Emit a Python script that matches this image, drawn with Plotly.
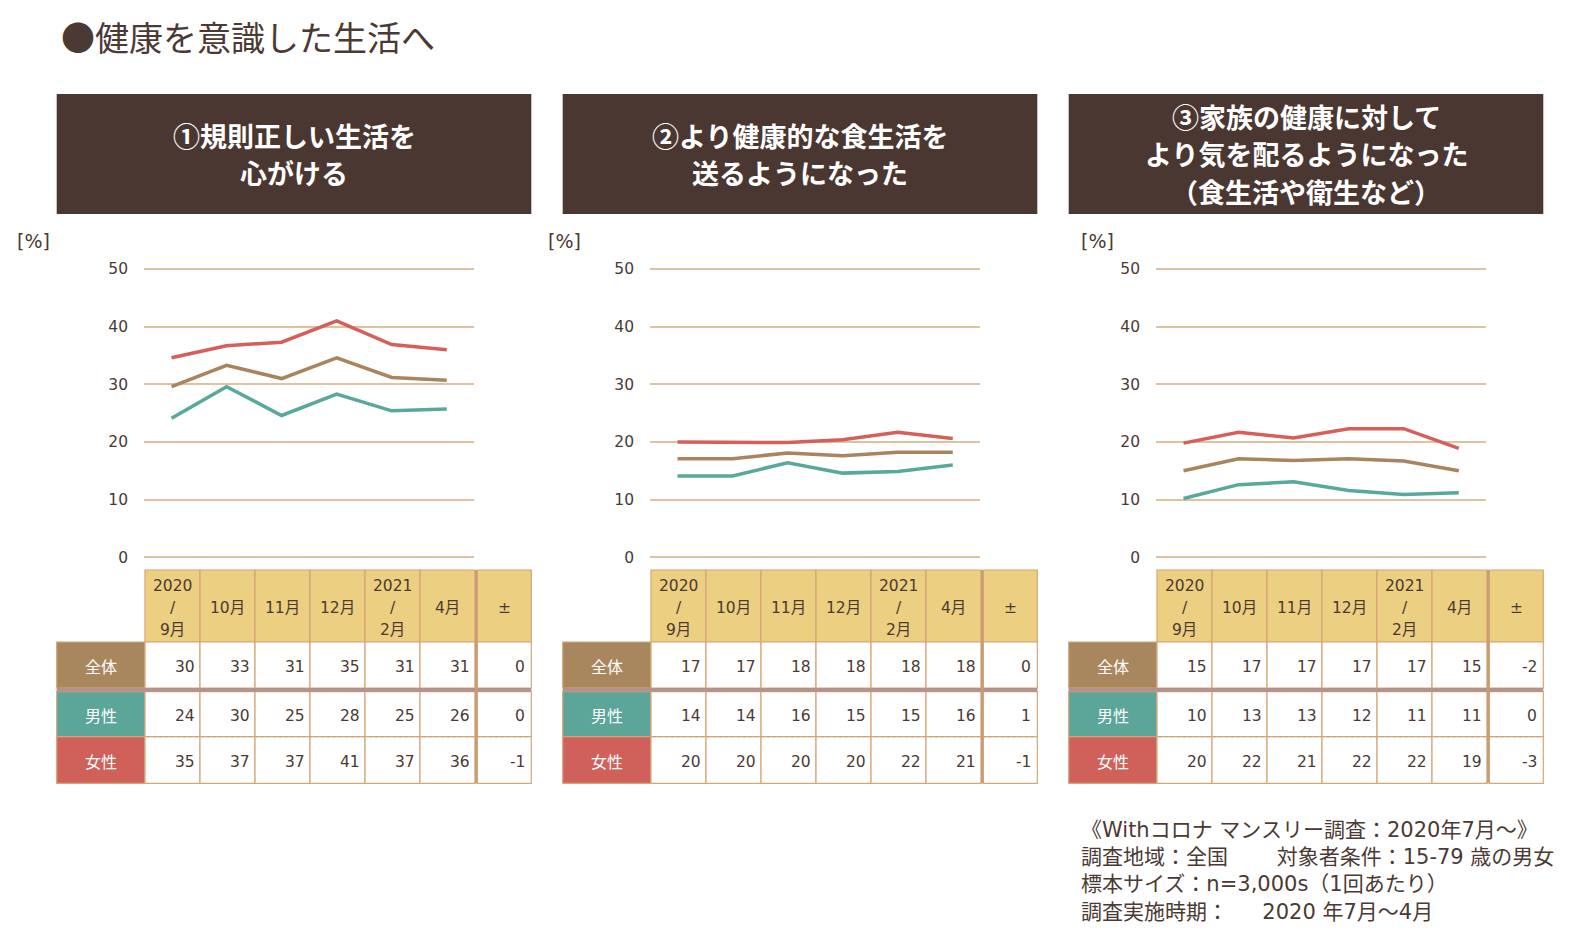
import plotly.graph_objects as go

W, H = 1595, 940

# ---------------- data ----------------
months = ["2020/9月", "10月", "11月", "12月", "2021/2月", "4月"]
col_labels = ["2020<br>/<br>9月", "10月", "11月", "12月", "2021<br>/<br>2月", "4月"]
diff_label = "±"
row_labels = ["全体", "男性", "女性"]
y_ticks = [0, 10, 20, 30, 40, 50]

panel_titles = [
    ["①規則正しい生活を", "心がける"],
    ["②より健康的な食生活を", "送るようになった"],
    ["③家族の健康に対して", "より気を配るようになった", "（食生活や衛生など）"],
]

# line values (%)
p1_all = [29.6, 33.3, 31.0, 34.6, 31.2, 30.7]
p1_male = [24.1, 29.6, 24.6, 28.3, 25.4, 25.7]
p1_female = [34.6, 36.7, 37.3, 41.0, 36.9, 36.0]

p2_all = [17.1, 17.1, 18.1, 17.6, 18.2, 18.2]
p2_male = [14.1, 14.1, 16.4, 14.6, 14.9, 16.0]
p2_female = [20.0, 19.9, 19.9, 20.4, 21.7, 20.6]

p3_all = [15.0, 17.1, 16.8, 17.1, 16.7, 15.0]
p3_male = [10.2, 12.6, 13.1, 11.6, 10.9, 11.2]
p3_female = [19.8, 21.7, 20.7, 22.3, 22.3, 18.9]

# table values (as printed)
t1_all = [30, 33, 31, 35, 31, 31]
t1_male = [24, 30, 25, 28, 25, 26]
t1_female = [35, 37, 37, 41, 37, 36]
t1_diff = [0, 0, -1]

t2_all = [17, 17, 18, 18, 18, 18]
t2_male = [14, 14, 16, 15, 15, 16]
t2_female = [20, 20, 20, 20, 22, 21]
t2_diff = [0, 1, -1]

t3_all = [15, 17, 17, 17, 17, 15]
t3_male = [10, 13, 13, 12, 11, 11]
t3_female = [20, 22, 21, 22, 22, 19]
t3_diff = [-2, 0, -3]

main_title = "●健康を意識した生活へ"
footnotes = [
    "《Withコロナ マンスリー調査：2020年7月～》",
    "調査地域：全国　　 対象者条件：15-79 歳の男女",
    "標本サイズ：n=3,000s（1回あたり）",
    "調査実施時期：　  2020 年7月～4月",
]

panels = [
    dict(lines=[p1_all, p1_male, p1_female], table=[t1_all, t1_male, t1_female], diff=t1_diff),
    dict(lines=[p2_all, p2_male, p2_female], table=[t2_all, t2_male, t2_female], diff=t2_diff),
    dict(lines=[p3_all, p3_male, p3_female], table=[t3_all, t3_male, t3_female], diff=t3_diff),
]

# ---------------- style ----------------
C_TEXT = "#4B3A34"
C_HEAD = "#4B3731"
C_GRID = "#DEC3A3"
C_GOLD = "#ECCF80"
C_BORDER = "#D6A676"
C_SEP = "#B4918A"
line_colors = ["#A9845E", "#58A99B", "#D65F59"]
label_colors = ["#A8875F", "#5BA699", "#D0605A"]
CJK = "Noto Sans CJK JP"
NUM = "DejaVu Sans, Noto Sans CJK JP"

PANEL_X = [56.7, 562.7, 1068.7]
PANEL_W = 474.6


def px(x):
    return x / W


def py(y):
    return 1 - y / H


fig = go.Figure()
shapes = []
annotations = []

# main title
annotations.append(dict(x=px(59), y=py(37), xref="paper", yref="paper", xanchor="left", yanchor="middle",
                        text=main_title, showarrow=False, font=dict(family=CJK, size=34, color=C_TEXT)))

pct_x = [14.5, 546, 1079]

Y0, Y50 = 557.3, 269.0
ypad = 0.6
unit = (Y0 - Y50) / 50.0

for p, pan in enumerate(panels):
    ox = PANEL_X[p]
    ax = "" if p == 0 else str(p + 1)

    # header box
    shapes.append(dict(type="rect", xref="paper", yref="paper", x0=px(ox), x1=px(ox + PANEL_W),
                       y0=py(214), y1=py(94), fillcolor=C_HEAD, line=dict(width=0), layer="below"))
    lines_t = panel_titles[p]
    n = len(lines_t)
    for k, t in enumerate(lines_t):
        yc = 154 + (k - (n - 1) / 2) * 37.5
        annotations.append(dict(x=px(ox + PANEL_W / 2), y=py(yc), xref="paper", yref="paper",
                                xanchor="center", yanchor="middle", text="<b>" + t + "</b>", showarrow=False,
                                font=dict(family=CJK, size=27, color="white")))

    # [%]
    annotations.append(dict(x=px(pct_x[p]), y=py(241), xref="paper", yref="paper", xanchor="left",
                            yanchor="middle", text="[%]", showarrow=False,
                            font=dict(family="DejaVu Sans", size=19, color=C_TEXT)))

    # line chart
    for s, vals in enumerate(pan["lines"]):
        fig.add_trace(go.Scatter(x=months, y=vals, mode="lines", xaxis="x" + ax, yaxis="y" + ax,
                                 line=dict(color=line_colors[s], width=3.5), showlegend=False,
                                 cliponaxis=False, hoverinfo="skip"))
    fig.layout["xaxis" + ax] = dict(domain=[px(ox + 87.3), px(ox + 417.6)], range=[-0.5, 5.5],
                                    type="category", categoryarray=months, showticklabels=False,
                                    showgrid=False, zeroline=False, showline=False, anchor="y" + ax,
                                    fixedrange=True)
    fig.layout["yaxis" + ax] = dict(domain=[py(Y0 + ypad * unit), py(Y50 - ypad * unit)],
                                    range=[-ypad, 50 + ypad], tickvals=y_ticks,
                                    showgrid=True, gridcolor=C_GRID, gridwidth=1.8, zeroline=False,
                                    showline=False, ticks="",
                                    ticklabelstandoff=15, anchor="x" + ax,
                                    tickfont=dict(family="DejaVu Sans", size=15.5, color=C_TEXT),
                                    fixedrange=True)

    # ---- table ----
    lab_x0, lab_x1 = ox, ox + 88.3
    cw = 55.0
    data_x0 = lab_x1
    thick_x = data_x0 + 6 * cw + 1.2
    pm_x0, pm_x1 = data_x0 + 6 * cw + 2.3, ox + PANEL_W
    head_y0, head_y1 = 570, 642
    rows = [(642, 688), (691.7, 736.7), (736.7, 783.3)]
    tdy = 2.0  # text baseline adjustment

    # header cells
    for i in range(6):
        shapes.append(dict(type="rect", xref="paper", yref="paper", x0=px(data_x0 + i * cw),
                           x1=px(data_x0 + (i + 1) * cw), y0=py(head_y1), y1=py(head_y0),
                           fillcolor=C_GOLD, line=dict(color=C_BORDER, width=1.2)))
        parts = col_labels[i].split("<br>")
        m = len(parts)
        for k, t in enumerate(parts):
            yc = 606 + tdy + (k - (m - 1) / 2) * 22.3
            annotations.append(dict(x=px(data_x0 + (i + 0.5) * cw), y=py(yc), xref="paper", yref="paper",
                                    xanchor="center", yanchor="middle", text=t, showarrow=False,
                                    font=dict(family=NUM, size=15.5, color=C_TEXT)))
    shapes.append(dict(type="rect", xref="paper", yref="paper", x0=px(pm_x0), x1=px(pm_x1),
                       y0=py(head_y1), y1=py(head_y0), fillcolor=C_GOLD, line=dict(color=C_BORDER, width=1.2)))
    annotations.append(dict(x=px((pm_x0 + pm_x1) / 2), y=py(606 + tdy), xref="paper", yref="paper",
                            xanchor="center", yanchor="middle", text=diff_label, showarrow=False,
                            font=dict(family=NUM, size=15.5, color=C_TEXT)))

    # body rows
    for r, (y0, y1) in enumerate(rows):
        yc = (y0 + y1) / 2
        shapes.append(dict(type="rect", xref="paper", yref="paper", x0=px(lab_x0), x1=px(lab_x1),
                           y0=py(y1), y1=py(y0), fillcolor=label_colors[r], line=dict(color=C_BORDER, width=1.2)))
        annotations.append(dict(x=px((lab_x0 + lab_x1) / 2), y=py(yc + 1), xref="paper", yref="paper",
                                xanchor="center", yanchor="middle", text=row_labels[r], showarrow=False,
                                font=dict(family=CJK, size=16, color="white")))
        vals = pan["table"][r]
        for i in range(6):
            shapes.append(dict(type="rect", xref="paper", yref="paper", x0=px(data_x0 + i * cw),
                               x1=px(data_x0 + (i + 1) * cw), y0=py(y1), y1=py(y0),
                               fillcolor="white", line=dict(color=C_BORDER, width=1.2)))
            annotations.append(dict(x=px(data_x0 + (i + 1) * cw - 3), y=py(yc + tdy), xref="paper",
                                    yref="paper", xanchor="right", yanchor="middle", text=str(vals[i]),
                                    showarrow=False, font=dict(family=NUM, size=15.5, color=C_TEXT)))
        shapes.append(dict(type="rect", xref="paper", yref="paper", x0=px(pm_x0), x1=px(pm_x1),
                           y0=py(y1), y1=py(y0), fillcolor="white", line=dict(color=C_BORDER, width=1.2)))
        annotations.append(dict(x=px(pm_x1 - 4), y=py(yc + tdy), xref="paper", yref="paper",
                                xanchor="right", yanchor="middle", text=str(pan["diff"][r]), showarrow=False,
                                font=dict(family=NUM, size=15.5, color=C_TEXT)))

    # thick separator between 全体 and 男性
    shapes.append(dict(type="line", xref="paper", yref="paper", x0=px(ox), x1=px(ox + PANEL_W),
                       y0=py(689.8), y1=py(689.8), line=dict(color=C_SEP, width=3.7)))
    # dotted line between 男性 and 女性
    shapes.append(dict(type="line", xref="paper", yref="paper", x0=px(ox), x1=px(ox + PANEL_W),
                       y0=py(736.7), y1=py(736.7), line=dict(color="#C9A27E", width=1.2, dash="dot")))
    # thick vertical separator before ±
    shapes.append(dict(type="line", xref="paper", yref="paper", x0=px(thick_x), x1=px(thick_x),
                       y0=py(783.3), y1=py(570), line=dict(color="#C89C74", width=2.6)))

# footnotes
for k, t in enumerate(footnotes):
    annotations.append(dict(x=px(1079), y=py(830 + k * 27.2), xref="paper", yref="paper", xanchor="left",
                            yanchor="middle", text=t, showarrow=False,
                            font=dict(family=NUM, size=21, color=C_TEXT)))

fig.update_layout(width=W, height=H, margin=dict(l=0, r=0, t=0, b=0, autoexpand=False),
                  paper_bgcolor="white", plot_bgcolor="white", shapes=shapes,
                  annotations=annotations, showlegend=False)

fig.write_html("out.html")
